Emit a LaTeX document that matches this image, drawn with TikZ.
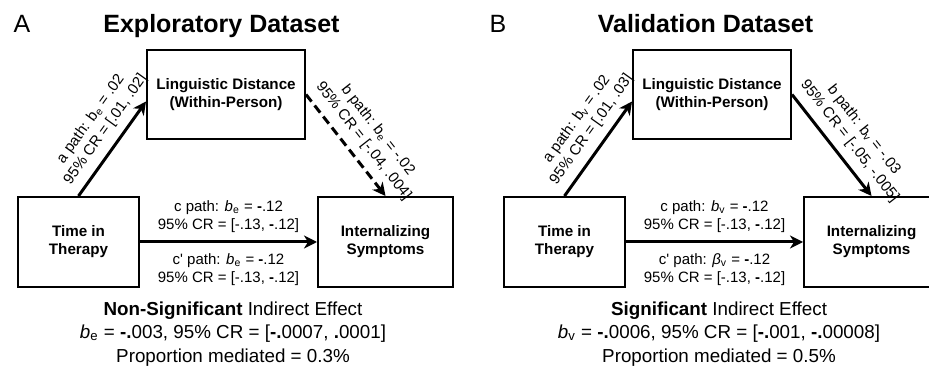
\documentclass[tikz,border=0pt]{standalone}
\usepackage{fontspec}
\setmainfont{Liberation Sans}
\usetikzlibrary{
  arrows.meta,
  positioning
}
\tikzset{>={Stealth[length=6.5pt,width=6.5pt,inset=2pt]}}
\tikzset{
  varbox/.style={draw, line width=1pt, align=center,
    font=\fontsize{7.6}{9}\selectfont\bfseries},
  patharrow/.style={->, line width=1.5pt},
  pathtext/.style={align=center, inner sep=1pt,
    font=\fontsize{7.5}{9}\selectfont},
  summary/.style={align=center, font=\fontsize{9.4}{11.8}\selectfont},
  panelletter/.style={anchor=base, font=\fontsize{12.5}{15}\selectfont},
  paneltitle/.style={anchor=base, font=\fontsize{12.5}{15}\selectfont\bfseries}
}
\newcommand{\bmin}{\textbf{-}}
\newcommand{\bdot}{\textbf{.}}
\newcommand{\cpr}{c\textquotesingle}

\begin{document}
\begin{tikzpicture}[x=0.5pt,y=-0.5pt]
  \useasboundingbox (0,0) rectangle (929,367);
  \clip (0,0) rectangle (929,367);

  % exploratory data
  \node[panelletter] (letA) at (22,33) {A};
  \node[paneltitle] (titA) at (221.5,33) {Exploratory Dataset};
  \node[varbox, minimum width=79pt, minimum height=44.5pt] (medA) at (226,94.5)
    {Linguistic Distance\\(Within-Person)};
  \node[varbox, minimum width=60.5pt, minimum height=45pt] (timeA) at (78.5,242)
    {Time in\\Therapy};
  \node[varbox, minimum width=67.5pt, minimum height=45pt] (intA) at (385.5,242)
    {Internalizing\\Symptoms};
  \draw[patharrow] (timeA.north) -- node[pathtext, sloped, above=3pt, pos=0.6]
    {a path: b\textsubscript{e} = .02\\95\% CR = [.01, .02]} (medA.185);
  \draw[patharrow, dash pattern=on 4.5pt off 2.5pt] (medA.east) -- node[pathtext, sloped, above=3pt, pos=0.56]
    {b path: b\textsubscript{e} = -.02\\95\% CR = [-.04, .004]} (intA.north);
  \draw[patharrow] (timeA.east) --
    node[pathtext, above=3pt] {c path: \textit{b}\textsubscript{e} = \bmin.12\\95\% CR = [-.13, \bmin.12]}
    node[pathtext, below=4pt] {\cpr{} path: \textit{b}\textsubscript{e} = \bmin.12\\95\% CR = [-.13, \bmin.12]}
    (intA.west);
  \node[summary] (sumA) at (233,334)
    {\textbf{Non-Significant} Indirect Effect\\
     \textit{b}\textsubscript{e} = \bmin\bdot003, 95\% CR = [\bmin\bdot0007, \bdot0001]\\
     Proportion mediated = 0.3\%};

  % validation data
  \node[panelletter] (letB) at (498,33) {B};
  \node[paneltitle] (titB) at (705.5,33) {Validation Dataset};
  \node[varbox, minimum width=79pt, minimum height=44.5pt] (medB) at (712,94.5)
    {Linguistic Distance\\(Within-Person)};
  \node[varbox, minimum width=60.5pt, minimum height=45pt] (timeB) at (564.5,242)
    {Time in\\Therapy};
  \node[varbox, minimum width=67.5pt, minimum height=45pt] (intB) at (871.5,242)
    {Internalizing\\Symptoms};
  \draw[patharrow] (timeB.north) -- node[pathtext, sloped, above=3pt, pos=0.6]
    {a path: b\textsubscript{v} = .02\\95\% CR = [.01, .03]} (medB.185);
  \draw[patharrow] (medB.east) -- node[pathtext, sloped, above=3pt, pos=0.56]
    {b path: b\textsubscript{v} = -.03\\95\% CR = [-.05, -.005]} (intB.north);
  \draw[patharrow] (timeB.east) --
    node[pathtext, above=3pt] {c path: \textit{b}\textsubscript{v} = \bmin.12\\95\% CR = [-.13, \bmin.12]}
    node[pathtext, below=4pt] {\cpr{} path: \textit{β}\textsubscript{v} = \bmin.12\\95\% CR = [-.13, \bmin.12]}
    (intB.west);
  \node[summary] (sumB) at (719,334)
    {\textbf{Significant} Indirect Effect\\
     \textit{b}\textsubscript{v} = \bmin\bdot0006, 95\% CR = [\bmin\bdot001, \bmin\bdot00008]\\
     Proportion mediated = 0.5\%};
\end{tikzpicture}
\end{document}
